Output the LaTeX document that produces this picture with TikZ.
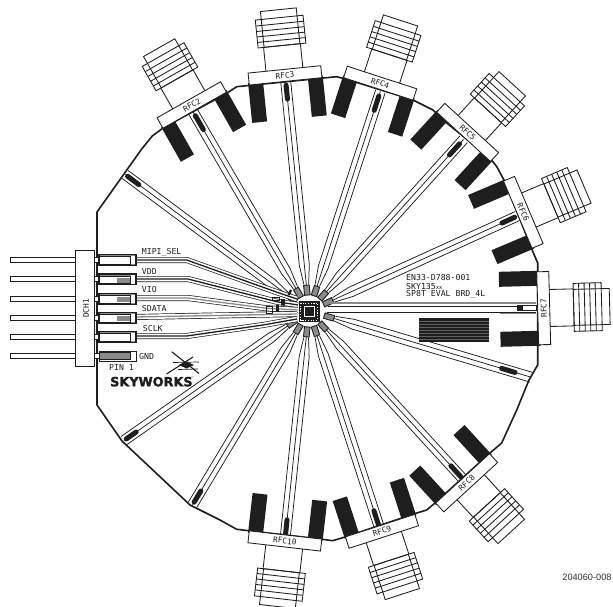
\documentclass[tikz,border=0pt]{standalone}
\usepackage{fontspec}
\setmainfont{DejaVu Sans Mono}
\newfontfamily\logofont[BoldFont={DejaVu Sans Bold},BoldFeatures={FakeBold=1.6}]{DejaVu Sans}
\newfontfamily\notefont{Liberation Sans}
\definecolor{ink}{HTML}{1E1E1E}
\definecolor{midg}{HTML}{8A8A8A}
\tikzset{
  fin/.style={draw=ink,line width=0.85pt},
  finbox/.style={draw=ink,line width=0.85pt,fill=white},
  padblock/.style={fill=ink},
  trline/.style={draw=ink,line width=0.75pt},
  dashbar/.style={draw=ink,line width=5pt,line cap=round},
  board/.style={draw=ink,line width=1.6pt,line join=round},
  silk/.style={font=\fontsize{8.2}{9}\selectfont,text=ink,inner sep=0pt},
  portlabel/.style={font=\fontsize{7.8}{9}\selectfont,text=ink,inner sep=0pt},
  pin/.style={draw=ink,line width=0.8pt,fill=white},
}
\newcommand{\rfcport}[5]{%
 \begin{scope}[shift={(#2,#3)},rotate=#4]
  \fill[padblock] (-50,22.5) rectangle (-10,37.5);
  \fill[padblock] (-50,-22.5) rectangle (-10,-37.5);
  \draw[fin] (0,-18.5) -- (24,-18.5) (0,18.5) -- (24,18.5);
  \draw[finbox] (24,-24) rectangle (52,24);
  \draw[fin] (24,-18) rectangle (60,18);
  \draw[fin] (29.5,-24) -- (29.5,24) (35,-24) -- (35,24) (40.5,-24) -- (40.5,24) (46,-24) -- (46,24);
  \draw[finbox] (-12,-36.5) rectangle (0,36.5);
  \node[portlabel,rotate=#5] (#1) at (-6,0) {#1};
 \end{scope}}
\newcommand{\rftrace}[4]{%
 \begin{scope}[shift={(309,311)},rotate=#1]
  \draw[trline] (27,-2.4) -- (46,-5) -- (#2,-5);
  \draw[trline] (27,2.4) -- (46,5) -- (#2,5);
  \draw[trline] (25,0) -- (#2,0);
  \draw[draw=ink,fill=midg,line width=0.9pt] (16,-2.8) rectangle (26,2.8);
  \draw[dashbar] (#3,0) -- (#4,0);
 \end{scope}}
\newcommand{\headerpin}[1]{%
  \draw[pin] (10,#1-2.5) rectangle (75,#1+2.5);
  \draw[pin] (94.3,#1-2.5) rectangle (99,#1+2.5);
}
\newcommand{\headerpad}[2]{%
  \draw[draw=ink,line width=1.3pt,fill=midg] (99,#1-5.4) rectangle (136,#1+5.2);
  \fill[white] (130.5,#1-4.2) rectangle (135,#1+4.4);
  \draw[draw=ink,line width=0.8pt,fill=white] (99,#1-3.4) rectangle (130,#1+4.2);
  \fill[#2] (116.5,#1-1.6) rectangle (130,#1+3.2);
}
\newcommand{\sigbus}[2]{%
  \draw[ink,line width=6pt,line join=round] #1;
  \draw[white,line width=4.6pt,line join=round] #1;
  \draw[#2,line width=1.3pt,line join=round] #1;
}
\begin{document}
\begin{tikzpicture}[x=1pt,y=-1pt]
\useasboundingbox (0,0) rectangle (613,607);
\clip (0,0) rectangle (613,607);
\fill[white] (0,0) rectangle (613,607);
% RF traces
\rftrace{143.4}{229}{212}{226}
\rftrace{120.2}{231}{210}{226}
\rftrace{95.8}{231}{213}{227}
\rftrace{72}{231}{211}{226}
\rftrace{48}{231}{210}{225}
\rftrace{24.5}{229}{212}{226}
\rftrace{-16.6}{232}{201}{215}
\rftrace{-47.5}{231}{210}{225}
\rftrace{-72}{231}{210}{225}
\rftrace{-96}{231}{210}{225}
\rftrace{-121}{226}{210}{223}
\rftrace{-145}{226}{211}{223}
% RFC7 trace
\draw[midg,line width=1.2pt] (330,303) -- (536,303) (500,313) -- (536,313);
\draw[trline] (328,306.3) -- (518,306.3) (327,312) -- (536,312);
\draw[draw=ink,fill=white,line width=0.8pt] (517,305.5) rectangle (536,310.7);
\fill[ink] (517,305.5) rectangle (523,310.7);
% control traces
\sigbus{(135,260) -- (186.7,260) -- (280,293.3) -- (297,299)}{ink}
\sigbus{(135,279) -- (188,279) -- (276.7,301.7) -- (298,305)}{ink}
\sigbus{(135,298) -- (188,298) -- (266.7,308.3) -- (298,310)}{midg}
\sigbus{(135,317) -- (188,316) -- (297,314)}{midg}
\sigbus{(135,336) -- (186.7,336) -- (263,325) -- (297,319)}{ink}
% chip
\fill[ink] (298.5,301) rectangle (319.5,322);
\draw[white,line width=1pt] (304,306.5) rectangle (314,316.5);
\draw[white,line width=0.7pt,dash pattern=on 1.2pt off 1.5pt] (300.5,303) rectangle (317.5,320);
% small parts
\fill[ink] (287.5,294.5) -- (290,289.5) -- (292,290.5) -- (289.5,295.5) -- cycle;
\fill[ink] (281,298.5) rectangle (284.5,305);
\fill[ink] (275.5,305) rectangle (278.5,311.5);
\draw[ink,line width=0.6pt] (266,306.5) rectangle (272,313);
\draw[ink,line width=0.6pt] (272,297) rectangle (279,300);
% board
\draw[board] (97,212) -- (141.7,149) -- (152.3,136) -- (163,128) -- (226.7,93.3) -- (236.7,86.7) -- (336.7,76.7) -- (346.7,79.3) -- (413,100) -- (433,110) -- (443,120) -- (490,158) -- (497,167) -- (505,182) -- (533,252) -- (537.7,263) -- (537.7,365) -- (529,380) -- (516.7,410) -- (501.7,443) -- (490,453) -- (435,503) -- (426.7,510) -- (416.7,513) -- (346,536.7) -- (332.7,540.7) -- (320,539) -- (236.7,529.3) -- (220,520) -- (190,505) -- (122,441) -- (97,405) -- cycle;
% RF ports
\rfcport{RFC2}{188.8}{99.8}{119.6}{29.6}
\rfcport{RFC3}{284.4}{69.4}{95.8}{5.8}
\rfcport{RFC4}{382}{77.5}{72}{-18}
\rfcport{RFC5}{471.7}{128}{47.5}{-42.5}
\rfcport{RFC6}{528.8}{210}{23}{-67}
\rfcport{RFC7}{549.7}{308}{1.5}{91.5}
\rfcport{RFC8}{470.7}{487.2}{-47.5}{42.5}
\rfcport{RFC9}{383.8}{537}{-72}{18}
\rfcport{RFC10}{284.2}{546.9}{-96.5}{-6.5}
% header
\headerpin{260}\headerpin{279.3}\headerpin{299}\headerpin{318}\headerpin{337}\headerpin{356}
\draw[pin] (75,250.7) rectangle (94.3,366);
\node[portlabel,rotate=90] (dch) at (86,308.5) {DCH1};
\headerpad{260}{white}
\headerpad{279.3}{midg}
\headerpad{299}{midg}
\headerpad{318}{midg}
\headerpad{337}{white}
\draw[draw=ink,line width=0.9pt,fill=white] (99,351.3) rectangle (136,361);
\draw[draw=ink,line width=1pt,fill=midg] (99,352.8) rectangle (130,359.6);
% labels
\node[silk,anchor=west] (lmipi) at (141.7,252.7) {MIPI\_SEL};
\node[silk,anchor=west] (lvdd) at (141.7,271.7) {VDD};
\node[silk,anchor=west] (lvio) at (141.7,290) {VIO};
\node[silk,anchor=west] (lsdata) at (141.7,309) {SDATA};
\node[silk,anchor=west] (lsclk) at (142.7,328.3) {SCLK};
\node[silk,anchor=west] (lgnd) at (139,356.7) {GND};
\node[silk,anchor=west] (lpin) at (109,367.7) {PIN 1};
\node[silk,anchor=west] (t1) at (406,278) {EN33-D788-001};
\node[silk,anchor=west] (t2) at (406,286.3) {SKY135{\fontsize{5.5}{6}\selectfont xx}};
\node[silk,anchor=west] (t3) at (406,294.7) {SP8T EVAL BRD\_4L};
% hatched block
\fill[ink] (419.3,318.3) rectangle (489.3,341.7);
\foreach \yy in {321,324,327,330,333,336,339}{\draw[black!62,line width=0.35pt] (419.3,\yy) -- (489.3,\yy);}
% logo
\node[font=\logofont\bfseries\fontsize{12.8}{14}\selectfont,text=ink,inner sep=0pt,anchor=west] (logo) at (110,381.7) {SKYWORKS};
\node[font=\logofont\fontsize{3.5}{4}\selectfont,text=ink,inner sep=0pt] (tm) at (192.5,378) {™};
\draw[ink,line width=1.1pt] (171.7,351.7) -- (199,373.5) (166.5,374) -- (193,357);
\draw[ink,line width=0.7pt] (173,362.5) -- (199,362) (178,369.5) -- (198,369);
\fill[ink] (179,365) -- (186.5,361.5) -- (194,365) -- (186.5,368.5) -- cycle;
% footer
\node[font=\notefont\fontsize{9.2}{10}\selectfont,text=black!80,inner sep=0pt,anchor=east] (docno) at (611.7,577.3) {204060-008};
\end{tikzpicture}
\end{document}
